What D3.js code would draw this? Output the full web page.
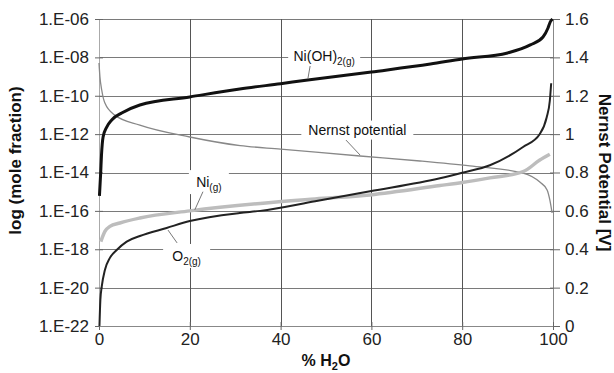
<!DOCTYPE html>
<html>
<head>
<meta charset="utf-8">
<script src="https://cdn.jsdelivr.net/npm/d3@7"></script>
<style>
  html, body { margin: 0; padding: 0; background: #fff; }
  svg { display: block; font-family: "Liberation Sans", Arial, sans-serif; }
</style>
</head>
<body>
<svg id="chart" width="614" height="373"></svg>
<script>
// ---------------- DATA ----------------
const xTicks = [0, 20, 40, 60, 80, 100];
const leftTicks = [-6, -8, -10, -12, -14, -16, -18, -20, -22];
const leftTickLabels = ["1.E-06", "1.E-08", "1.E-10", "1.E-12", "1.E-14", "1.E-16", "1.E-18", "1.E-20", "1.E-22"];
const rightTicks = [0, 0.2, 0.4, 0.6, 0.8, 1.0, 1.2, 1.4, 1.6];
const rightTickLabels = ["0", "0.2", "0.4", "0.6", "0.8", "1", "1.2", "1.4", "1.6"];

// Ni(OH)2(g): % H2O vs log(mole fraction)
const niohX = [0.1, 0.37, 0.55, 0.9, 1.7, 2.8, 5, 9, 20, 31, 40, 46, 60, 73, 80, 90, 95, 97.8, 98.9, 99.4, 99.9];
const niohY = [-15.22, -14.02, -13.09, -12.15, -11.63, -11.26, -10.9, -10.48, -10.06, -9.65, -9.37, -9.18, -8.76, -8.35, -8.08, -7.77, -7.35, -6.94, -6.47, -6.15, -6.0];

// O2(g)
const o2X = [0.1, 0.3, 0.6, 1.3, 2.4, 3.9, 6.1, 9, 14.9, 20, 31, 35.5, 47.6, 59.7, 75.1, 80, 86.1, 93.4, 97.1, 98.6, 99.3, 99.6];
const o2Y = [-22.0, -20.64, -19.95, -19.08, -18.45, -18.04, -17.6, -17.31, -16.89, -16.53, -16.11, -16.0, -15.5, -14.98, -14.3, -14.01, -13.62, -12.67, -11.99, -11.13, -10.26, -9.35];

// Ni(g)
const niX = [0.4, 1.3, 2.4, 4.6, 9, 20, 35.5, 47.6, 59.7, 75.1, 80, 86.1, 93.4, 97.1, 99.3];
const niY = [-17.6, -17.07, -16.81, -16.63, -16.37, -16.0, -15.61, -15.38, -15.17, -14.68, -14.52, -14.28, -13.96, -13.35, -13.05];

// Nernst potential [V]
const nernstX = [0, 0.2, 0.6, 1.3, 3.5, 9, 20, 31.1, 40, 57.5, 70.7, 81.7, 93.4, 97.1, 98.7, 99.3, 99.8];
const nernstV = [1.371, 1.30, 1.23, 1.162, 1.099, 1.047, 0.985, 0.94, 0.922, 0.886, 0.860, 0.834, 0.797, 0.750, 0.709, 0.657, 0.589];

// ---------------- LAYOUT ----------------
const W = 614, H = 373;
const m = { left: 99, right: 61, top: 19, bottom: 47 };
const pw = W - m.left - m.right, ph = H - m.top - m.bottom;

const svg = d3.select("#chart");
const x = d3.scaleLinear().domain([0, 100]).range([m.left, m.left + pw]);
const yL = d3.scaleLinear().domain([-22, -6]).range([m.top + ph, m.top]);
const yR = d3.scaleLinear().domain([0, 1.6]).range([m.top + ph, m.top]);

// gridlines
const grid = svg.append("g");
grid.selectAll("line.h").data(leftTicks).join("line")
  .attr("x1", x(0)).attr("x2", x(100))
  .attr("y1", d => Math.round(yL(d)) + 0.5).attr("y2", d => Math.round(yL(d)) + 0.5)
  .attr("stroke", "#7a7a7a").attr("stroke-width", 1);
grid.selectAll("line.v").data(xTicks.filter(d => d > 0 && d < 100)).join("line")
  .attr("y1", yL(-6)).attr("y2", yL(-22))
  .attr("x1", d => Math.round(x(d)) + 0.5).attr("x2", d => Math.round(x(d)) + 0.5)
  .attr("stroke", "#555").attr("stroke-width", 1);

// axes
const fs = "17px";
const axL = svg.append("g").attr("transform", `translate(${m.left},0)`)
  .call(d3.axisLeft(yL).tickValues(leftTicks).tickFormat((d, i) => leftTickLabels[i]).tickSize(4).tickPadding(6));
const axR = svg.append("g").attr("transform", `translate(${m.left + pw},0)`)
  .call(d3.axisRight(yR).tickValues(rightTicks).tickFormat((d, i) => rightTickLabels[i]).tickSize(7).tickPadding(5));
const axB = svg.append("g").attr("transform", `translate(0,${m.top + ph})`)
  .call(d3.axisBottom(x).tickValues(xTicks).tickFormat(d3.format("d")).tickSize(4).tickPadding(3));
[axL, axR, axB].forEach(a => {
  a.selectAll("text").style("font-size", fs).attr("fill", "#222");
  a.select(".domain").attr("stroke", "#888");
  a.selectAll(".tick line").attr("stroke", "#666");
});
// cross ticks
axL.selectAll(".tick line").attr("x1", 4);
axB.selectAll(".tick line").attr("y1", -4);
axR.selectAll(".tick line").attr("x1", -3);
axL.select(".domain").attr("stroke", "#aaa");

// curves
const lineL = d3.line().x(d => x(d[0])).y(d => yL(d[1])).curve(d3.curveMonotoneX);
const lineR = d3.line().x(d => x(d[0])).y(d => yR(d[1])).curve(d3.curveMonotoneX);
const zip = (a, b) => a.map((v, i) => [v, b[i]]);

svg.append("path").datum(zip(nernstX, nernstV)).attr("d", lineR)
  .attr("fill", "none").attr("stroke", "#888").attr("stroke-width", 1.3);
svg.append("path").datum(zip(niX, niY)).attr("d", lineL)
  .attr("fill", "none").attr("stroke", "#bdbdbd").attr("stroke-width", 3.5);
svg.append("path").datum(zip(o2X, o2Y)).attr("d", lineL)
  .attr("fill", "none").attr("stroke", "#222").attr("stroke-width", 2);
svg.append("path").datum(zip(niohX, niohY)).attr("d", lineL)
  .attr("fill", "none").attr("stroke", "#111").attr("stroke-width", 3);

// annotations (label box in px size, position in data units)
function annot(cfg) {
  const g = svg.append("g");
  const cx = x(cfg.at[0]), cy = cfg.scale(cfg.at[1]);
  g.append("rect").attr("x", cx - cfg.bw / 2).attr("y", cy - cfg.bh / 2)
    .attr("width", cfg.bw).attr("height", cfg.bh).attr("fill", "#fff");
  g.append("line")
    .attr("x1", x(cfg.lead[0])).attr("y1", cfg.scale(cfg.lead[1]))
    .attr("x2", x(cfg.lead[2])).attr("y2", cfg.scale(cfg.lead[3]))
    .attr("stroke", "#777").attr("stroke-width", 1);
  const t = g.append("text").attr("x", cx).attr("y", cy + 5).attr("text-anchor", "middle")
    .style("font-size", "14px").attr("fill", "#111");
  t.append("tspan").text(cfg.main);
  if (cfg.sub) t.append("tspan").attr("dy", 4).style("font-size", "10px").text(cfg.sub);
}
annot({ main: "Ni(OH)", sub: "2(g)", at: [49.6, -7.95], bw: 72, bh: 20, scale: yL, lead: [46.5, -8.45, 46.0, -9.13] });
annot({ main: "Nernst potential", at: [56.9, 1.021], bw: 112, bh: 19, scale: yR, lead: [54.4, 0.969, 57.5, 0.891] });
annot({ main: "Ni", sub: "(g)", at: [24.2, -14.5], bw: 40, bh: 24, scale: yL, lead: [22.9, -15.0, 21.1, -15.95] });
annot({ main: "O", sub: "2(g)", at: [19.3, -18.35], bw: 47, bh: 24, scale: yL, lead: [17.2, -17.67, 15.2, -17.0] });

// axis titles
const xt = svg.append("text").attr("x", x(50)).attr("y", 366).attr("text-anchor", "middle")
  .style("font-size", "16px").style("font-weight", "bold").attr("fill", "#111");
xt.append("tspan").text("% H");
xt.append("tspan").attr("dy", 4).style("font-size", "11px").text("2");
xt.append("tspan").attr("dy", -4).text("O");

svg.append("text").attr("transform", `translate(21,${(m.top + m.top + ph) / 2 - 12}) rotate(-90)`)
  .attr("text-anchor", "middle").style("font-size", "17px").style("font-weight", "bold").attr("fill", "#111")
  .text("log (mole fraction)");
svg.append("text").attr("transform", `translate(599,${(m.top + m.top + ph) / 2}) rotate(90)`)
  .attr("text-anchor", "middle").style("font-size", "17px").style("font-weight", "bold").attr("fill", "#111")
  .text("Nernst Potential [V]");
</script>
</body>
</html>
